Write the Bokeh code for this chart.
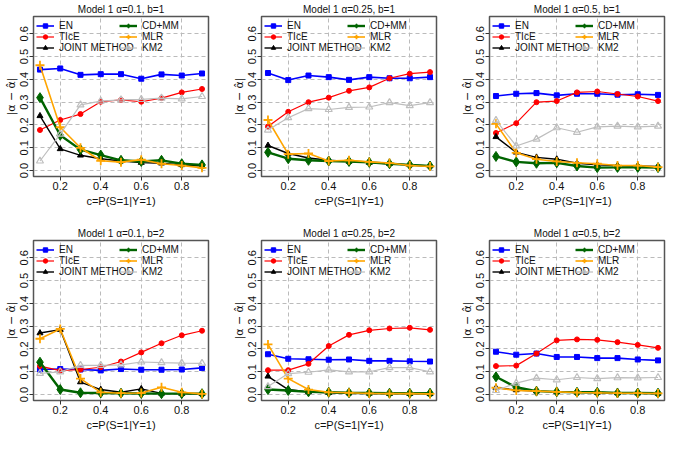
import numpy as np
from bokeh.plotting import figure
from bokeh.layouts import column, row
from bokeh.models import Legend, LegendItem, FixedTicker, Range1d
from bokeh.embed import file_html
from bokeh.resources import INLINE

# ---------------- data ----------------
c_values = [0.1, 0.2, 0.3, 0.4, 0.5, 0.6, 0.7, 0.8, 0.9]
x_ticks = [0.2, 0.4, 0.6, 0.8]
y_ticks = [0.0, 0.1, 0.2, 0.3, 0.4, 0.5, 0.6]
methods = ["EN", "TIcE", "JOINT METHOD", "CD+MM", "MLR", "KM2"]
titles = ["Model 1 \u03b1=0.1, b=1", "Model 1 \u03b1=0.25, b=1", "Model 1 \u03b1=0.5, b=1",
          "Model 1 \u03b1=0.1, b=2", "Model 1 \u03b1=0.25, b=2", "Model 1 \u03b1=0.5, b=2"]

# panel 1: alpha=0.1, b=1
en_1 = [0.443, 0.448, 0.420, 0.423, 0.423, 0.403, 0.422, 0.417, 0.426]
tice_1 = [0.178, 0.222, 0.248, 0.302, 0.310, 0.302, 0.318, 0.343, 0.358]
joint_1 = [0.240, 0.095, 0.067, 0.052, 0.042, 0.035, 0.032, 0.025, 0.020]
cdmm_1 = [0.320, 0.155, 0.092, 0.068, 0.045, 0.040, 0.045, 0.030, 0.025]
mlr_1 = [0.462, 0.190, 0.100, 0.043, 0.037, 0.048, 0.030, 0.022, 0.012]
km2_1 = [0.042, 0.160, 0.288, 0.305, 0.310, 0.312, 0.318, 0.315, 0.325]

# panel 2: alpha=0.25, b=1
en_2 = [0.428, 0.397, 0.417, 0.410, 0.398, 0.410, 0.405, 0.405, 0.410]
tice_2 = [0.193, 0.258, 0.300, 0.320, 0.350, 0.365, 0.405, 0.425, 0.432]
joint_2 = [0.110, 0.075, 0.055, 0.045, 0.040, 0.035, 0.030, 0.025, 0.020]
cdmm_2 = [0.080, 0.052, 0.045, 0.042, 0.040, 0.036, 0.030, 0.025, 0.020]
mlr_2 = [0.222, 0.072, 0.075, 0.042, 0.045, 0.038, 0.033, 0.022, 0.018]
km2_2 = [0.178, 0.232, 0.272, 0.268, 0.277, 0.279, 0.298, 0.285, 0.298]

# panel 3: alpha=0.5, b=1
en_3 = [0.327, 0.337, 0.340, 0.330, 0.337, 0.337, 0.333, 0.335, 0.332]
tice_3 = [0.165, 0.208, 0.300, 0.305, 0.343, 0.347, 0.336, 0.325, 0.305]
joint_3 = [0.148, 0.080, 0.058, 0.050, 0.032, 0.025, 0.022, 0.020, 0.018]
cdmm_3 = [0.062, 0.038, 0.032, 0.034, 0.020, 0.013, 0.014, 0.014, 0.013]
mlr_3 = [0.205, 0.078, 0.050, 0.040, 0.034, 0.030, 0.022, 0.022, 0.015]
km2_3 = [0.220, 0.108, 0.138, 0.188, 0.168, 0.192, 0.195, 0.192, 0.195]

# panel 4: alpha=0.1, b=2
en_4 = [0.110, 0.112, 0.110, 0.106, 0.112, 0.109, 0.109, 0.110, 0.117]
tice_4 = [0.125, 0.105, 0.110, 0.120, 0.145, 0.185, 0.225, 0.260, 0.280]
joint_4 = [0.270, 0.285, 0.055, 0.022, 0.010, 0.025, 0.005, 0.004, 0.003]
cdmm_4 = [0.142, 0.022, 0.008, 0.007, 0.006, 0.005, 0.004, 0.004, 0.004]
mlr_4 = [0.245, 0.288, 0.070, 0.010, 0.006, 0.007, 0.032, 0.010, 0.003]
km2_4 = [0.093, 0.100, 0.128, 0.128, 0.130, 0.143, 0.140, 0.138, 0.137]

# panel 5: alpha=0.25, b=2
en_5 = [0.177, 0.157, 0.155, 0.153, 0.154, 0.148, 0.148, 0.146, 0.145]
tice_5 = [0.107, 0.107, 0.135, 0.213, 0.262, 0.282, 0.290, 0.293, 0.284]
joint_5 = [0.080, 0.022, 0.012, 0.008, 0.006, 0.005, 0.004, 0.004, 0.003]
cdmm_5 = [0.022, 0.018, 0.012, 0.010, 0.008, 0.007, 0.006, 0.006, 0.006]
mlr_5 = [0.220, 0.070, 0.022, 0.010, 0.008, 0.005, 0.004, 0.004, 0.003]
km2_5 = [0.035, 0.092, 0.098, 0.108, 0.100, 0.100, 0.118, 0.118, 0.100]

# panel 6: alpha=0.5, b=2
en_6 = [0.188, 0.175, 0.180, 0.165, 0.165, 0.160, 0.160, 0.154, 0.150]
tice_6 = [0.125, 0.127, 0.180, 0.238, 0.242, 0.240, 0.230, 0.218, 0.205]
joint_6 = [0.030, 0.020, 0.015, 0.012, 0.010, 0.009, 0.007, 0.006, 0.005]
cdmm_6 = [0.078, 0.032, 0.015, 0.012, 0.010, 0.010, 0.007, 0.007, 0.006]
mlr_6 = [0.030, 0.018, 0.015, 0.012, 0.009, 0.008, 0.006, 0.006, 0.005]
km2_6 = [0.018, 0.050, 0.072, 0.065, 0.075, 0.070, 0.074, 0.073, 0.075]

panels = [
    [en_1, tice_1, joint_1, cdmm_1, mlr_1, km2_1],
    [en_2, tice_2, joint_2, cdmm_2, mlr_2, km2_2],
    [en_3, tice_3, joint_3, cdmm_3, mlr_3, km2_3],
    [en_4, tice_4, joint_4, cdmm_4, mlr_4, km2_4],
    [en_5, tice_5, joint_5, cdmm_5, mlr_5, km2_5],
    [en_6, tice_6, joint_6, cdmm_6, mlr_6, km2_6],
]

# ---------------- styles ----------------
styles = [
    dict(color="#0000FF", marker="square", size=5, lsize=5, lw=1.6, fill=True),
    dict(color="#FF0000", marker="circle", size=5, lsize=5, lw=1.2, fill=True),
    dict(color="#000000", marker="triangle", size=6, lsize=6, lw=1.4, fill=True),
    dict(color="#006400", marker="diamond", size=10, lsize=8, lw=2.4, fill=True),
    dict(color="#FFA500", marker="cross", size=9, lsize=8, lw=1.6, fill=True),
    dict(color="#BEBEBE", marker="triangle", size=7, lsize=6, lw=1.2, fill=False),
]

FONT = "Liberation Sans"
col_widths = [228, 228, 213]
right_borders = [20, 20, 5]
LEFT = 33
FRAME_H = 160


def add_series(p, xs, ys, st, size):
    lr = p.line(xs, ys, line_color=st["color"], line_width=st["lw"])
    if st["fill"]:
        sr = p.scatter(xs, ys, marker=st["marker"], size=size,
                       fill_color=st["color"], line_color=st["color"],
                       line_width=1.8 if st["marker"] == "cross" else 1)
    else:
        sr = p.scatter(xs, ys, marker=st["marker"], size=size,
                       fill_color=None, line_color=st["color"], line_width=1.2)
    return lr, sr


def make_panel(idx, series):
    top_row = idx < 3
    ci = idx % 3
    h = 210 if top_row else 223
    p = figure(width=col_widths[ci], height=h, output_backend="svg",
               toolbar_location=None, tools="",
               x_range=Range1d(0.068, 0.932), y_range=Range1d(-0.026, 0.676),
               min_border_left=LEFT, min_border_right=right_borders[ci],
               min_border_top=16 if top_row else 30,
               min_border_bottom=34 if top_row else 33,
               background_fill_color="white", border_fill_color="white")
    p.title.text = titles[idx]
    p.title.text_font = FONT
    p.title.text_font_size = "10px"
    p.title.text_font_style = "normal"
    p.title.text_color = "#111111"
    p.title.align = "center"
    p.title.standoff = 3

    p.outline_line_color = "#555555"
    p.outline_line_width = 1.5

    p.xaxis.ticker = FixedTicker(ticks=x_ticks)
    p.yaxis.ticker = FixedTicker(ticks=y_ticks)
    for ax in (p.xaxis, p.yaxis):
        ax.axis_line_color = None
        ax.major_tick_out = 4
        ax.major_tick_in = 0
        ax.major_tick_line_color = "#333333"
        ax.minor_tick_line_color = None
        ax.major_label_text_font = FONT
        ax.major_label_text_font_size = "11px"
        ax.major_label_text_color = "#111111"
        ax.major_label_standoff = 1
        ax.axis_label_text_font = FONT
        ax.axis_label_text_font_style = "normal"
        ax.axis_label_text_color = "#111111"
        ax.axis_label_standoff = 2
    p.yaxis.major_label_orientation = "vertical"
    p.yaxis.major_label_overrides = {0: "0.0"}
    p.xaxis.axis_label = "c=P(S=1|Y=1)"
    p.xaxis.axis_label_text_font_size = "11px"
    p.yaxis.axis_label = "|\u03b1 \u2212 \u03b1\u0302|"
    p.yaxis.axis_label_text_font = "DejaVu Sans"
    p.yaxis.axis_label_text_font_size = "11px"
    p.yaxis.axis_label_standoff = 0

    for g in (p.xgrid, p.ygrid):
        g.grid_line_color = "#BBBBBB"
        g.grid_line_dash = "4 3"
        g.grid_line_width = 1

    items = []
    nan_pt = np.array([np.nan])
    for name, ys, st in zip(methods, series, styles):
        add_series(p, c_values, ys, st, st["size"])
        # NaN-only renderers used just for the legend glyphs (smaller markers)
        lr, sr = add_series(p, nan_pt, nan_pt, st, st["lsize"])
        items.append(LegendItem(label=name, renderers=[lr, sr]))

    leg_h = 3 * 11
    ly = FRAME_H - 4 - leg_h
    for k, lx in enumerate([3, 86]):
        leg = Legend(items=items[3 * k:3 * k + 3], location=(lx, ly),
                     orientation="vertical", border_line_color=None,
                     background_fill_alpha=0, glyph_width=18, glyph_height=11,
                     label_height=11, label_standoff=5, spacing=0, padding=0,
                     margin=0, label_text_font=FONT, label_text_font_size="10px",
                     label_text_color="#111111")
        p.add_layout(leg)
    return p


figs = [make_panel(i, panels[i]) for i in range(6)]
layout = column(row(*figs[:3], spacing=0), row(*figs[3:], spacing=0), spacing=0)

open("out.html", "w").write(file_html(layout, INLINE))
